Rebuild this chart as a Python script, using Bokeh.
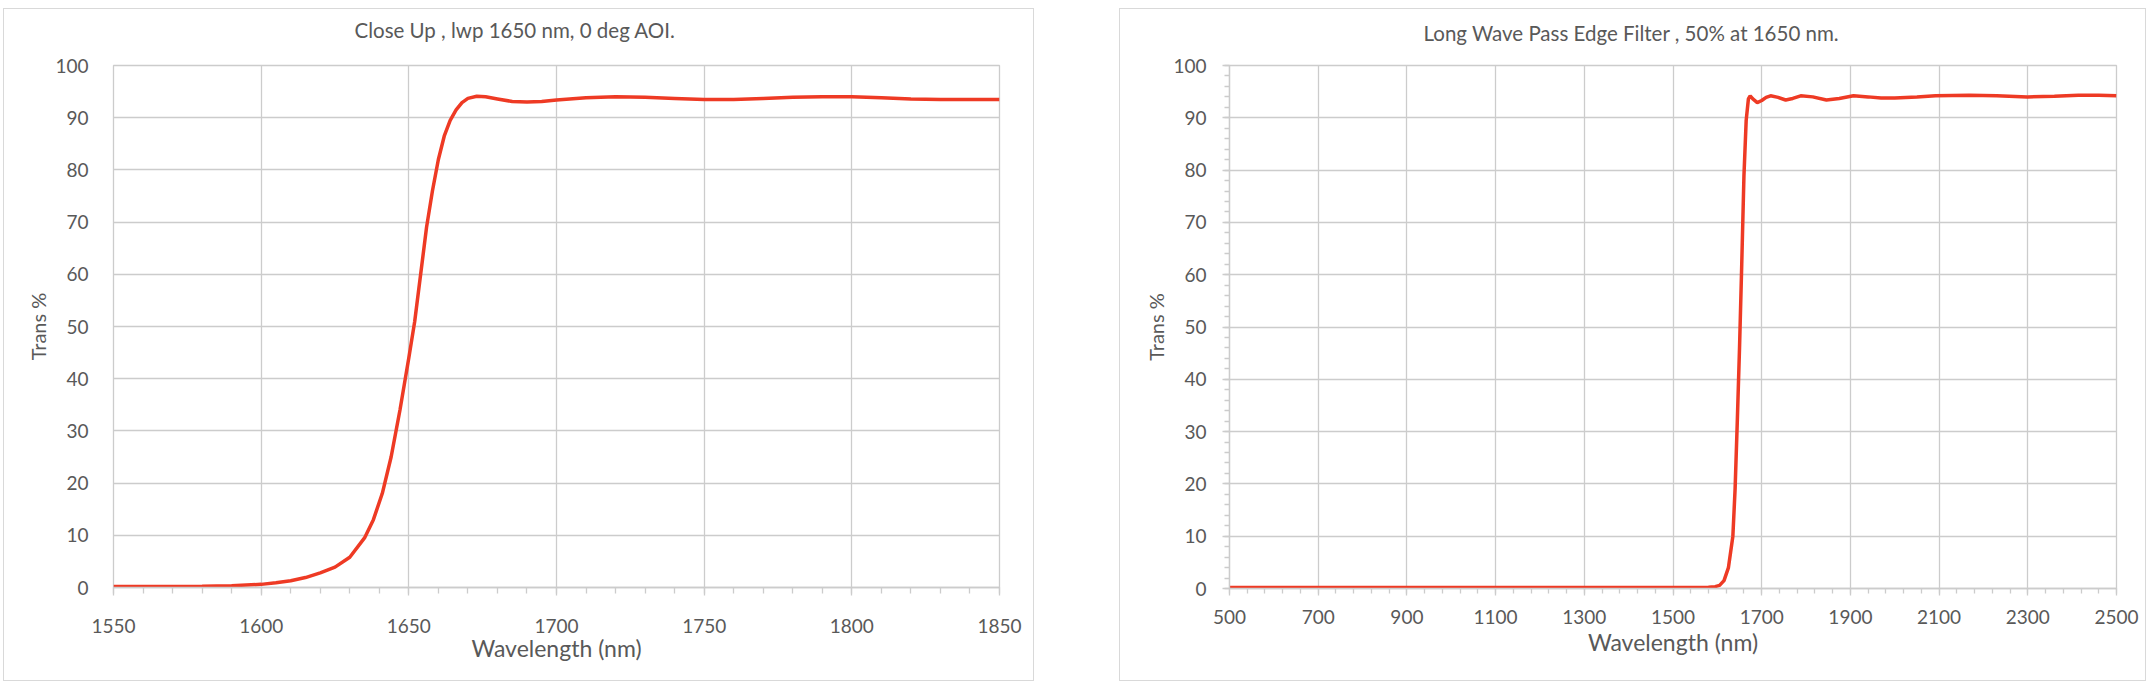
from bokeh.plotting import figure
from bokeh.models import Range1d, FixedTicker, Title, Spacer
from bokeh.layouts import row, column
from bokeh.embed import file_html
from bokeh.resources import INLINE

# ---------------- data ----------------
close_wl = [1550, 1560, 1570, 1580, 1590, 1600, 1605, 1610, 1615, 1620, 1625, 1630,
            1635, 1638, 1641, 1644, 1647, 1650, 1652, 1654, 1656, 1658, 1660, 1662,
            1664, 1666, 1668, 1670, 1673, 1676, 1680, 1685, 1690, 1695, 1700, 1710,
            1720, 1730, 1740, 1750, 1760, 1770, 1780, 1790, 1800, 1810, 1820, 1830,
            1840, 1850]
close_tr = [0.2, 0.2, 0.2, 0.25, 0.35, 0.6, 0.9, 1.3, 1.9, 2.8, 3.9, 5.8,
            9.5, 13, 18, 25, 34, 44, 51, 60, 69, 76, 82, 86.5,
            89.5, 91.5, 92.9, 93.7, 94.1, 94.0, 93.6, 93.1, 93.0, 93.1, 93.4, 93.8,
            94.0, 93.9, 93.7, 93.5, 93.5, 93.7, 93.9, 94.0, 94.0, 93.8, 93.6, 93.5,
            93.5, 93.5]

full_wl = [500, 600, 800, 1000, 1200, 1400, 1550, 1580, 1595, 1605, 1615, 1625,
           1635, 1640, 1645, 1650, 1655, 1660, 1665, 1670, 1674, 1680, 1690, 1700,
           1710, 1720, 1737, 1754, 1770, 1788, 1815, 1846, 1875, 1907, 1940, 1969,
           2000, 2050, 2092, 2168, 2230, 2299, 2360, 2414, 2460, 2500]
full_tr = [0.2, 0.2, 0.2, 0.2, 0.2, 0.2, 0.2, 0.25, 0.35, 0.6, 1.5, 4,
           10, 19, 32, 46, 62, 79, 89.5, 93.6, 94.2, 93.6, 92.9, 93.3,
           93.9, 94.2, 93.9, 93.4, 93.7, 94.2, 94.0, 93.4, 93.7, 94.2, 94.0, 93.8,
           93.8, 94.0, 94.2, 94.3, 94.2, 94.0, 94.1, 94.3, 94.3, 94.2]

close_title = "Close Up , lwp 1650 nm, 0 deg AOI."
full_title = "Long Wave Pass Edge Filter , 50% at 1650 nm."
x_label = "Wavelength (nm)"
y_label = "Trans %"

close_xticks = list(range(1550, 1851, 50))
close_xminor = list(range(1550, 1851, 10))
full_xticks = list(range(500, 2501, 200))
full_xminor = list(range(500, 2501, 40))
yticks = list(range(0, 101, 10))
yminor = list(range(0, 101, 2))

# ---------------- style ----------------
FONT = "Lato"
TXT = "#595959"
GRID = "#cccccc"
RED = "#ee3a24"


def make_fig(xr, fw, fh, ml, mr, mt, mb):
    p = figure(title=None, frame_width=fw, frame_height=fh,
               min_border_left=ml, min_border_right=mr,
               min_border_top=mt, min_border_bottom=mb,
               x_range=Range1d(*xr), y_range=Range1d(0, 100),
               output_backend="svg", toolbar_location=None)
    p.background_fill_color = "white"
    p.border_fill_color = "white"
    p.outline_line_color = GRID
    p.outline_line_width = 1.3
    for ax in (p.xaxis[0], p.yaxis[0]):
        ax.major_label_text_font = FONT
        ax.major_label_text_font_size = "19px"
        ax.major_label_text_color = TXT
        ax.axis_label_text_font = FONT
        ax.axis_label_text_color = TXT
        ax.axis_label_text_font_style = "normal"
        ax.axis_line_color = GRID
        ax.axis_line_width = 1.3
        ax.major_tick_line_color = GRID
        ax.minor_tick_line_color = GRID
        ax.major_tick_line_width = 1.3
        ax.minor_tick_line_width = 1.3
        ax.major_tick_in = 0
        ax.minor_tick_in = 0
    p.xaxis.axis_label_text_font_size = "23px"
    p.yaxis.axis_label_text_font_size = "20px"
    p.xgrid.grid_line_color = GRID
    p.ygrid.grid_line_color = GRID
    p.xgrid.grid_line_width = 1.3
    p.ygrid.grid_line_width = 1.3
    p.styles = {"border": "1px solid #d9d9d9", "box-sizing": "border-box"}
    return p


def add_title(p, text, offset, gap):
    # invisible spacer panel between the frame and the title
    p.add_layout(Title(text=" ", text_font_size="1px", standoff=gap,
                       text_color="white"), "above")
    t = Title(text=text, align="left", offset=offset, standoff=10,
              text_font=FONT, text_font_size="20.5px", text_color=TXT,
              text_font_style="normal")
    p.add_layout(t, "above")


# ---------- left chart ----------
p1 = make_fig((1550, 1850), 884, 520, 109, 36, 56, 95)
p1.xaxis.ticker = FixedTicker(ticks=close_xticks, minor_ticks=close_xminor)
p1.yaxis.ticker = FixedTicker(ticks=yticks, minor_ticks=[])
p1.xgrid.ticker = FixedTicker(ticks=close_xticks)
p1.ygrid.ticker = FixedTicker(ticks=yticks)
p1.xaxis.major_tick_out = 8
p1.xaxis.minor_tick_out = 6
p1.xaxis.major_label_standoff = 23
p1.yaxis.major_tick_out = 0
p1.yaxis.minor_tick_out = 0
p1.yaxis.axis_line_color = None
p1.yaxis.major_label_standoff = 25
p1.xaxis.axis_label = x_label
p1.yaxis.axis_label = y_label
p1.xaxis.axis_label_standoff = -2
p1.yaxis.axis_label_standoff = 2
p1.line(close_wl, close_tr, line_color=RED, line_width=3.5)
add_title(p1, close_title, 241, 16)

# ---------- right chart ----------
p2 = make_fig((500, 2500), 885, 521, 109, 31, 53, 97)
p2.xaxis.ticker = FixedTicker(ticks=full_xticks, minor_ticks=full_xminor)
p2.yaxis.ticker = FixedTicker(ticks=yticks, minor_ticks=yminor)
p2.xgrid.ticker = FixedTicker(ticks=full_xticks)
p2.ygrid.ticker = FixedTicker(ticks=yticks)
p2.xaxis.major_tick_out = 7
p2.xaxis.minor_tick_out = 5
p2.yaxis.major_tick_out = 7
p2.yaxis.minor_tick_out = 5
p2.xaxis.major_label_standoff = 14
p2.yaxis.major_label_standoff = 16
p2.xaxis.axis_label = x_label
p2.yaxis.axis_label = y_label
p2.xaxis.axis_label_standoff = 1
p2.yaxis.axis_label_standoff = 2
p2.line(full_wl, full_tr, line_color=RED, line_width=3.5)
add_title(p2, full_title, 194, 13)

layout = column(Spacer(width=10, height=8),
                row(Spacer(width=3, height=10), p1, Spacer(width=85, height=10), p2))
open("out.html", "w").write(file_html(layout, INLINE))
